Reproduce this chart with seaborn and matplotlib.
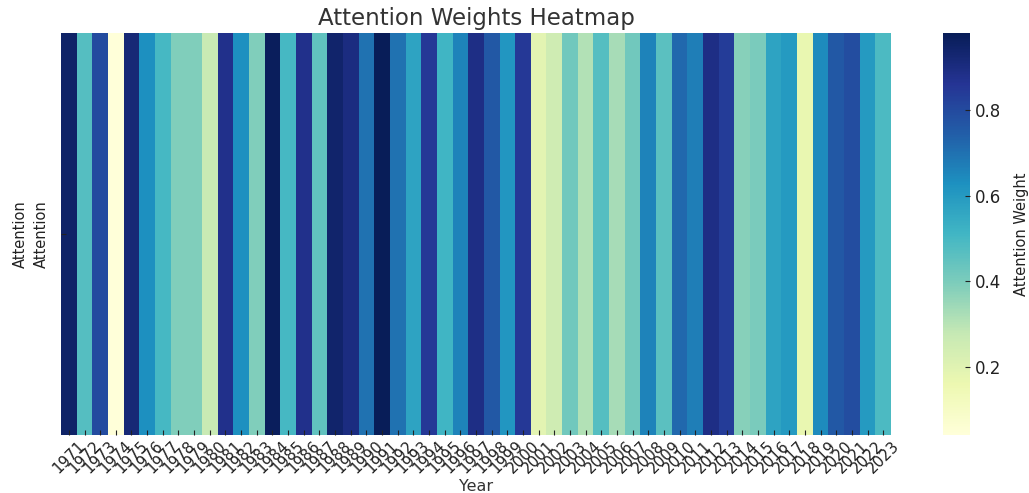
import matplotlib
matplotlib.use("Agg")
import matplotlib.pyplot as plt
import numpy as np
import pandas as pd
import seaborn as sns

# Yearly attention weights, 1971-2023
years = list(range(1971, 2024))
weights = [
    0.95, 0.47, 0.80, 0.04, 0.92, 0.63, 0.50, 0.39, 0.39, 0.27,   # 1971-1980
    0.88, 0.63, 0.39, 0.97, 0.50, 0.88, 0.45, 0.94, 0.90, 0.70,   # 1981-1990
    0.98, 0.70, 0.57, 0.85, 0.51, 0.66, 0.89, 0.76, 0.61, 0.85,   # 1991-2000
    0.19, 0.25, 0.42, 0.31, 0.47, 0.33, 0.42, 0.66, 0.46, 0.72,   # 2001-2010
    0.67, 0.89, 0.84, 0.38, 0.40, 0.57, 0.60, 0.17, 0.64, 0.76,   # 2011-2020
    0.79, 0.60, 0.49,                                             # 2021-2023
]
row_labels = ["Attention"]

df = pd.DataFrame([weights], index=row_labels, columns=years)

plt.rcParams["xtick.direction"] = "in"
plt.rcParams["ytick.direction"] = "in"
plt.rcParams["font.family"] = ["DejaVu Sans"]

fig = plt.figure(figsize=(10.29, 4.93), dpi=100)
ax = fig.add_axes([0.0593, 0.1176, 0.8066, 0.8154])
cax = fig.add_axes([0.9164, 0.1176, 0.0262, 0.8154])

sns.heatmap(
    df,
    cmap="YlGnBu",
    ax=ax,
    cbar_ax=cax,
    xticklabels=True,
    yticklabels=True,
    cbar_kws={"label": "Attention Weight"},
)

ax.set_title("Attention Weights Heatmap", fontsize=16.5, color="#333333", pad=6)
ax.set_xlabel("Year", fontsize=11.5, color="#333333", labelpad=2)
ax.set_ylabel("Attention", fontsize=10.5, color="#222222", labelpad=4)
ax.tick_params(axis="x", labelsize=11, length=3.5, width=0.8, colors="#222222", pad=2)
ax.tick_params(axis="y", labelsize=10.5, length=3.5, width=0.8, colors="#222222", pad=9)
plt.setp(ax.get_xticklabels(), rotation=45)
plt.setp(ax.get_yticklabels(), rotation=90, va="center")

cax.tick_params(labelsize=12, length=3.5, width=0.8, colors="#222222")
cax.yaxis.label.set_size(10.5)
cax.yaxis.label.set_color("#222222")
cax.yaxis.labelpad = 9

fig.savefig("out.png", dpi=100)
